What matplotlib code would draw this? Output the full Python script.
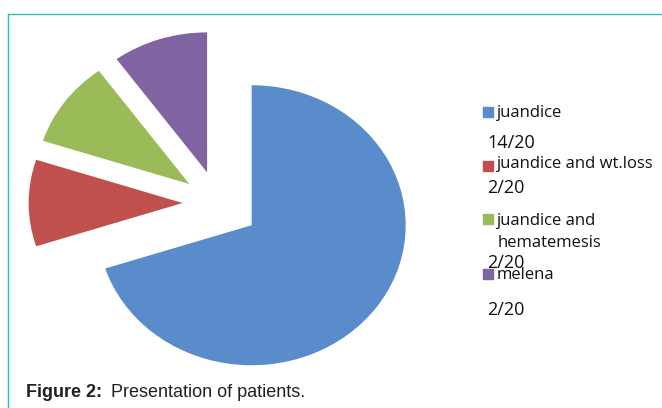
import matplotlib
matplotlib.use('Agg')
import matplotlib.pyplot as plt
from matplotlib.lines import Line2D

# data
labels = ['juandice', 'juandice and wt.loss', 'juandice and', 'melena']
fractions = ['14/20', '2/20', '2/20', '2/20']
counts = [14, 2, 2, 2]
colors = ['#5A8BCB', '#C0504D', '#9BBB59', '#8064A2']
explode = [0.27, 0.23, 0.23, 0.23]

fig = plt.figure(figsize=(6.62, 4.08), dpi=100)
ax = fig.add_axes([0, 0, 1, 1])
ax.pie(counts, colors=colors, explode=explode, startangle=90,
       counterclock=False, radius=1.0)
ax.set_aspect('auto')
ax.set_xlim(-1.416, 2.883)
ax.set_ylim(-1.464, 1.45)
ax.axis('off')

# pixel -> figure fraction
def fx(px):
    return px / 662

def fy(py):
    return 1 - py / 408

font = ['Open Sans', 'DejaVu Sans']
box_top = [107, 161, 214, 269]
label_base = [117, 168, 225, 279]
frac_base = [148, 193, 268, 315]
for i in range(4):
    fig.patches.append(plt.Rectangle((fx(483), fy(box_top[i] + 10)), 10 / 662, 10 / 408,
                                     transform=fig.transFigure, color=colors[i]))
    fig.text(fx(497), fy(label_base[i]), labels[i], fontsize=12, family=font,
             va='baseline', ha='left', color='#111111')
    fig.text(fx(487), fy(frac_base[i]), fractions[i], fontsize=13, family=font,
             va='baseline', ha='left', color='#111111')
fig.text(fx(498), fy(247), 'hematemesis', fontsize=12, family=font,
         va='baseline', ha='left', color='#111111')

# teal frame
fig.add_artist(Line2D([fx(8), 1], [fy(14), fy(14)], color='#2FC0B2', lw=1.0,
                      transform=fig.transFigure))
fig.add_artist(Line2D([fx(8), fx(8)], [fy(14), 0], color='#2FC0B2', lw=1.0,
                      transform=fig.transFigure))

# caption
cap_font = ['Liberation Sans', 'DejaVu Sans']
fig.text(fx(26), fy(397), 'Figure 2:', fontsize=13, weight='bold',
         family=cap_font, va='baseline', color='#231F20')
fig.text(fx(111), fy(397), 'Presentation of patients.', fontsize=13,
         family=cap_font, va='baseline', color='#231F20')

fig.savefig('out.png', dpi=100)
